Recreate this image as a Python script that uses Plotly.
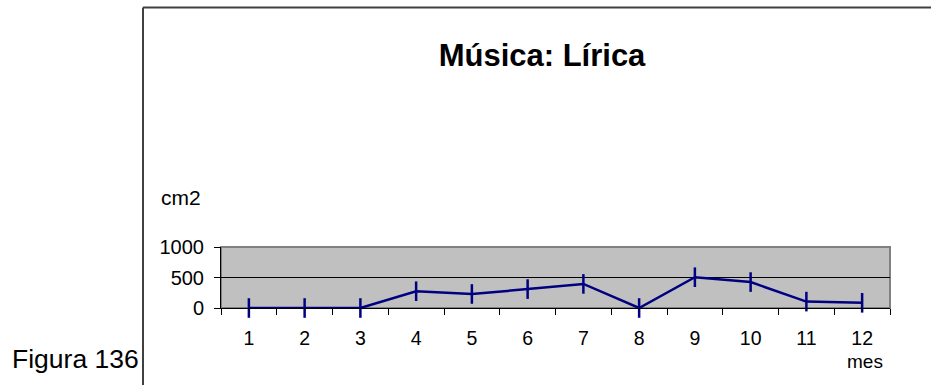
import plotly.graph_objects as go

months = ["1", "2", "3", "4", "5", "6", "7", "8", "9", "10", "11", "12"]
values = [0, 0, 0, 275, 230, 310, 395, 0, 505, 425, 105, 85]
y_ticks = [0, 500, 1000]
title_text = "Música: Lírica"
y_title = "cm2"
x_title = "mes"
figure_label = "Figura 136"

W, H = 931, 385
L, R, T, B = 221, 41, 247, 77
pw, ph = W - L - R, H - T - B

def px_x(px):
    return (px - L) / pw

def px_y(py):
    return (H - B - py) / ph

FONT = "Liberation Sans, Arial, sans-serif"

fig = go.Figure()
fig.add_trace(go.Scatter(
    x=months, y=values, mode="lines+markers",
    line=dict(color="#000080", width=2.5),
    marker=dict(symbol="line-ns", size=14, color="#000080",
                line=dict(color="#000080", width=2.5)),
    showlegend=False, cliponaxis=False,
))

fig.update_layout(
    width=W, height=H,
    margin=dict(l=L, r=R, t=T, b=B, pad=0),
    paper_bgcolor="white", plot_bgcolor="#c0c0c0",
    font=dict(family=FONT, color="black", size=19.5),
    title=dict(text="<b>" + title_text + "</b>", x=542 / W, xref="container",
               xanchor="center", y=1 - 55 / H, yref="container", yanchor="middle",
               font=dict(family=FONT, size=31, color="black")),
    xaxis=dict(type="category", range=[-0.5, len(months) - 0.5],
               tickson="boundaries", ticks="outside", ticklen=6,
               tickcolor="black", showline=True, linecolor="black", linewidth=1,
               showgrid=False, ticklabelstandoff=13,
               tickfont=dict(size=19.5)),
    yaxis=dict(range=[0, 1000], tickvals=y_ticks, ticks="outside", ticklen=6,
               tickcolor="black", showline=True, linecolor="black", linewidth=1,
               showgrid=True, gridcolor="black", gridwidth=1, zeroline=False,
               ticklabelstandoff=6, tickfont=dict(size=20)),
    shapes=[
        dict(type="rect", xref="paper", yref="paper", x0=0, x1=1, y0=0, y1=1,
             line=dict(color="#808080", width=2), layer="between"),
        dict(type="line", xref="paper", yref="paper",
             x0=px_x(143), x1=px_x(143), y0=px_y(7.5), y1=px_y(400),
             line=dict(color="#404040", width=2)),
        dict(type="line", xref="paper", yref="paper",
             x0=px_x(143), x1=px_x(940), y0=px_y(7.5), y1=px_y(7.5),
             line=dict(color="#404040", width=2)),
    ],
    annotations=[
        dict(text=y_title, xref="paper", yref="paper", x=px_x(159), y=px_y(197),
             xanchor="left", yanchor="middle", showarrow=False,
             font=dict(family=FONT, size=21, color="black")),
        dict(text=x_title, xref="paper", yref="paper", x=px_x(865), y=px_y(361),
             xanchor="center", yanchor="middle", showarrow=False,
             font=dict(family=FONT, size=19, color="black")),
        dict(text=figure_label, xref="paper", yref="paper", x=px_x(10), y=px_y(359),
             xanchor="left", yanchor="middle", showarrow=False,
             font=dict(family=FONT, size=26.5, color="black")),
    ],
)

fig.write_html("out.html", config={"displayModeBar": False},
               post_script="document.body.style.margin='0';")
